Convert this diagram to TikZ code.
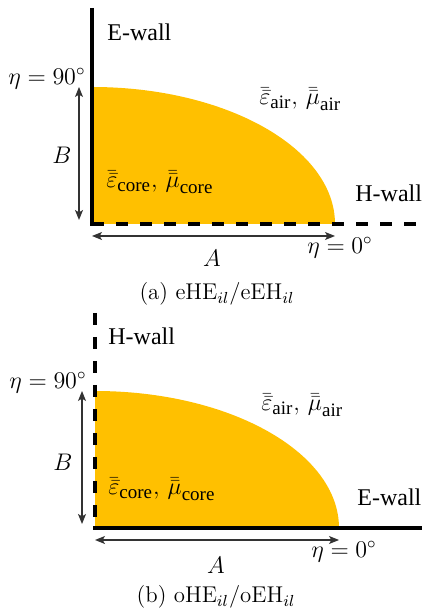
\documentclass[tikz,border=0pt]{standalone}
\usepackage{fontspec}
\newfontfamily\wallfont{Liberation Serif}
\usetikzlibrary{arrows.meta}
\definecolor{core}{RGB}{255,192,0}
\newcommand{\medsub}[1]{\mbox{\wallfont\fontsize{9.5}{11}\selectfont #1}}

\begin{document}
\begin{tikzpicture}[x=0.5pt, y=0.5pt, every node/.style={font=\fontsize{12}{14}\selectfont},
    wall/.style={line width=2pt},
    hwall/.style={line width=2pt, dash pattern=on 6pt off 6pt},
    dim/.style={line width=0.6pt, black!80, {Stealth[length=5pt,width=4pt,inset=1.2pt]}-{Stealth[length=5pt,width=4pt,inset=1.2pt]}},
    wlabel/.style={font=\wallfont\fontsize{12}{14}\selectfont, anchor=west, inner sep=0pt},
    mlabel/.style={anchor=west, inner sep=0pt},
    caption/.style={font=\fontsize{11.4}{13}\selectfont}]
    \useasboundingbox (0,0) rectangle (422,615);

    % (a) E-wall on the left, H-wall below
    \begin{scope}[shift={(92,391)}]
        \coordinate (oa) at (0,0);
        \coordinate (ta) at (0,216);
        \coordinate (ra) at (330,0);
        \fill[core] (oa) -- (243,0) arc[start angle=0, end angle=90, x radius=243, y radius=137] -- cycle;
        \draw[hwall] (oa) -- (ra);
        \draw[wall] (ta) -- (0,-2);

        \coordinate (ba1) at (-13,137);
        \coordinate (ba0) at (-13,4);
        \draw[dim] (ba1) -- (ba0);
        \coordinate (aa0) at (0,-12);
        \coordinate (aa1) at (243,-12);
        \draw[dim] (aa0) -- (aa1);

        \node[wlabel] (ewa) at (15,192) {E-wall};
        \node[wlabel] (hwa) at (263,31) {H-wall};
        \node (e90a) at (-45,145) {$\eta=90^\circ$};
        \node (e0a) [mlabel] at (215,-24) {$\eta=0^\circ$};
        \node (la) at (-30,69) {$B$};
        \node (lb) at (120,-34) {$A$};
        \node[mlabel] (corea) at (14,42) {$\bar{\bar{\varepsilon}}_{\medsub{core}},\, \bar{\bar{\mu}}_{\medsub{core}}$};
        \node[mlabel] (aira) at (167,125) {$\bar{\bar{\varepsilon}}_{\medsub{air}},\, \bar{\bar{\mu}}_{\medsub{air}}$};
        \node[caption] (capa) at (125,-70) {(a) eHE$_{il}$/eEH$_{il}$};
    \end{scope}

    % (b) H-wall on the left, E-wall below
    \begin{scope}[shift={(95,87)}]
        \coordinate (ob) at (0,0);
        \coordinate (tb) at (0,215);
        \coordinate (rb) at (327,0);
        \fill[core] (ob) -- (244,0) arc[start angle=0, end angle=90, x radius=244, y radius=137] -- cycle;
        \draw[hwall] (tb) -- (ob);
        \draw[wall] (-2,0) -- (rb);

        \coordinate (bb1) at (-13,137);
        \coordinate (bb0) at (-13,4);
        \draw[dim] (bb1) -- (bb0);
        \coordinate (ab0) at (0,-12);
        \coordinate (ab1) at (244,-12);
        \draw[dim] (ab0) -- (ab1);

        \node[wlabel] (hwb) at (13,192) {H-wall};
        \node[wlabel] (ewb) at (262,31) {E-wall};
        \node (e90b) at (-47,145) {$\eta=90^\circ$};
        \node (e0b) [mlabel] at (216,-24) {$\eta=0^\circ$};
        \node (bb) at (-32,66) {$B$};
        \node (ab) at (121,-37) {$A$};
        \node[mlabel] (coreb) at (13,39) {$\bar{\bar{\varepsilon}}_{\medsub{core}},\, \bar{\bar{\mu}}_{\medsub{core}}$};
        \node[mlabel] (airb) at (166,123) {$\bar{\bar{\varepsilon}}_{\medsub{air}},\, \bar{\bar{\mu}}_{\medsub{air}}$};
        \node[caption] (capb) at (121,-69) {(b) oHE$_{il}$/oEH$_{il}$};
    \end{scope}
\end{tikzpicture}
\end{document}
